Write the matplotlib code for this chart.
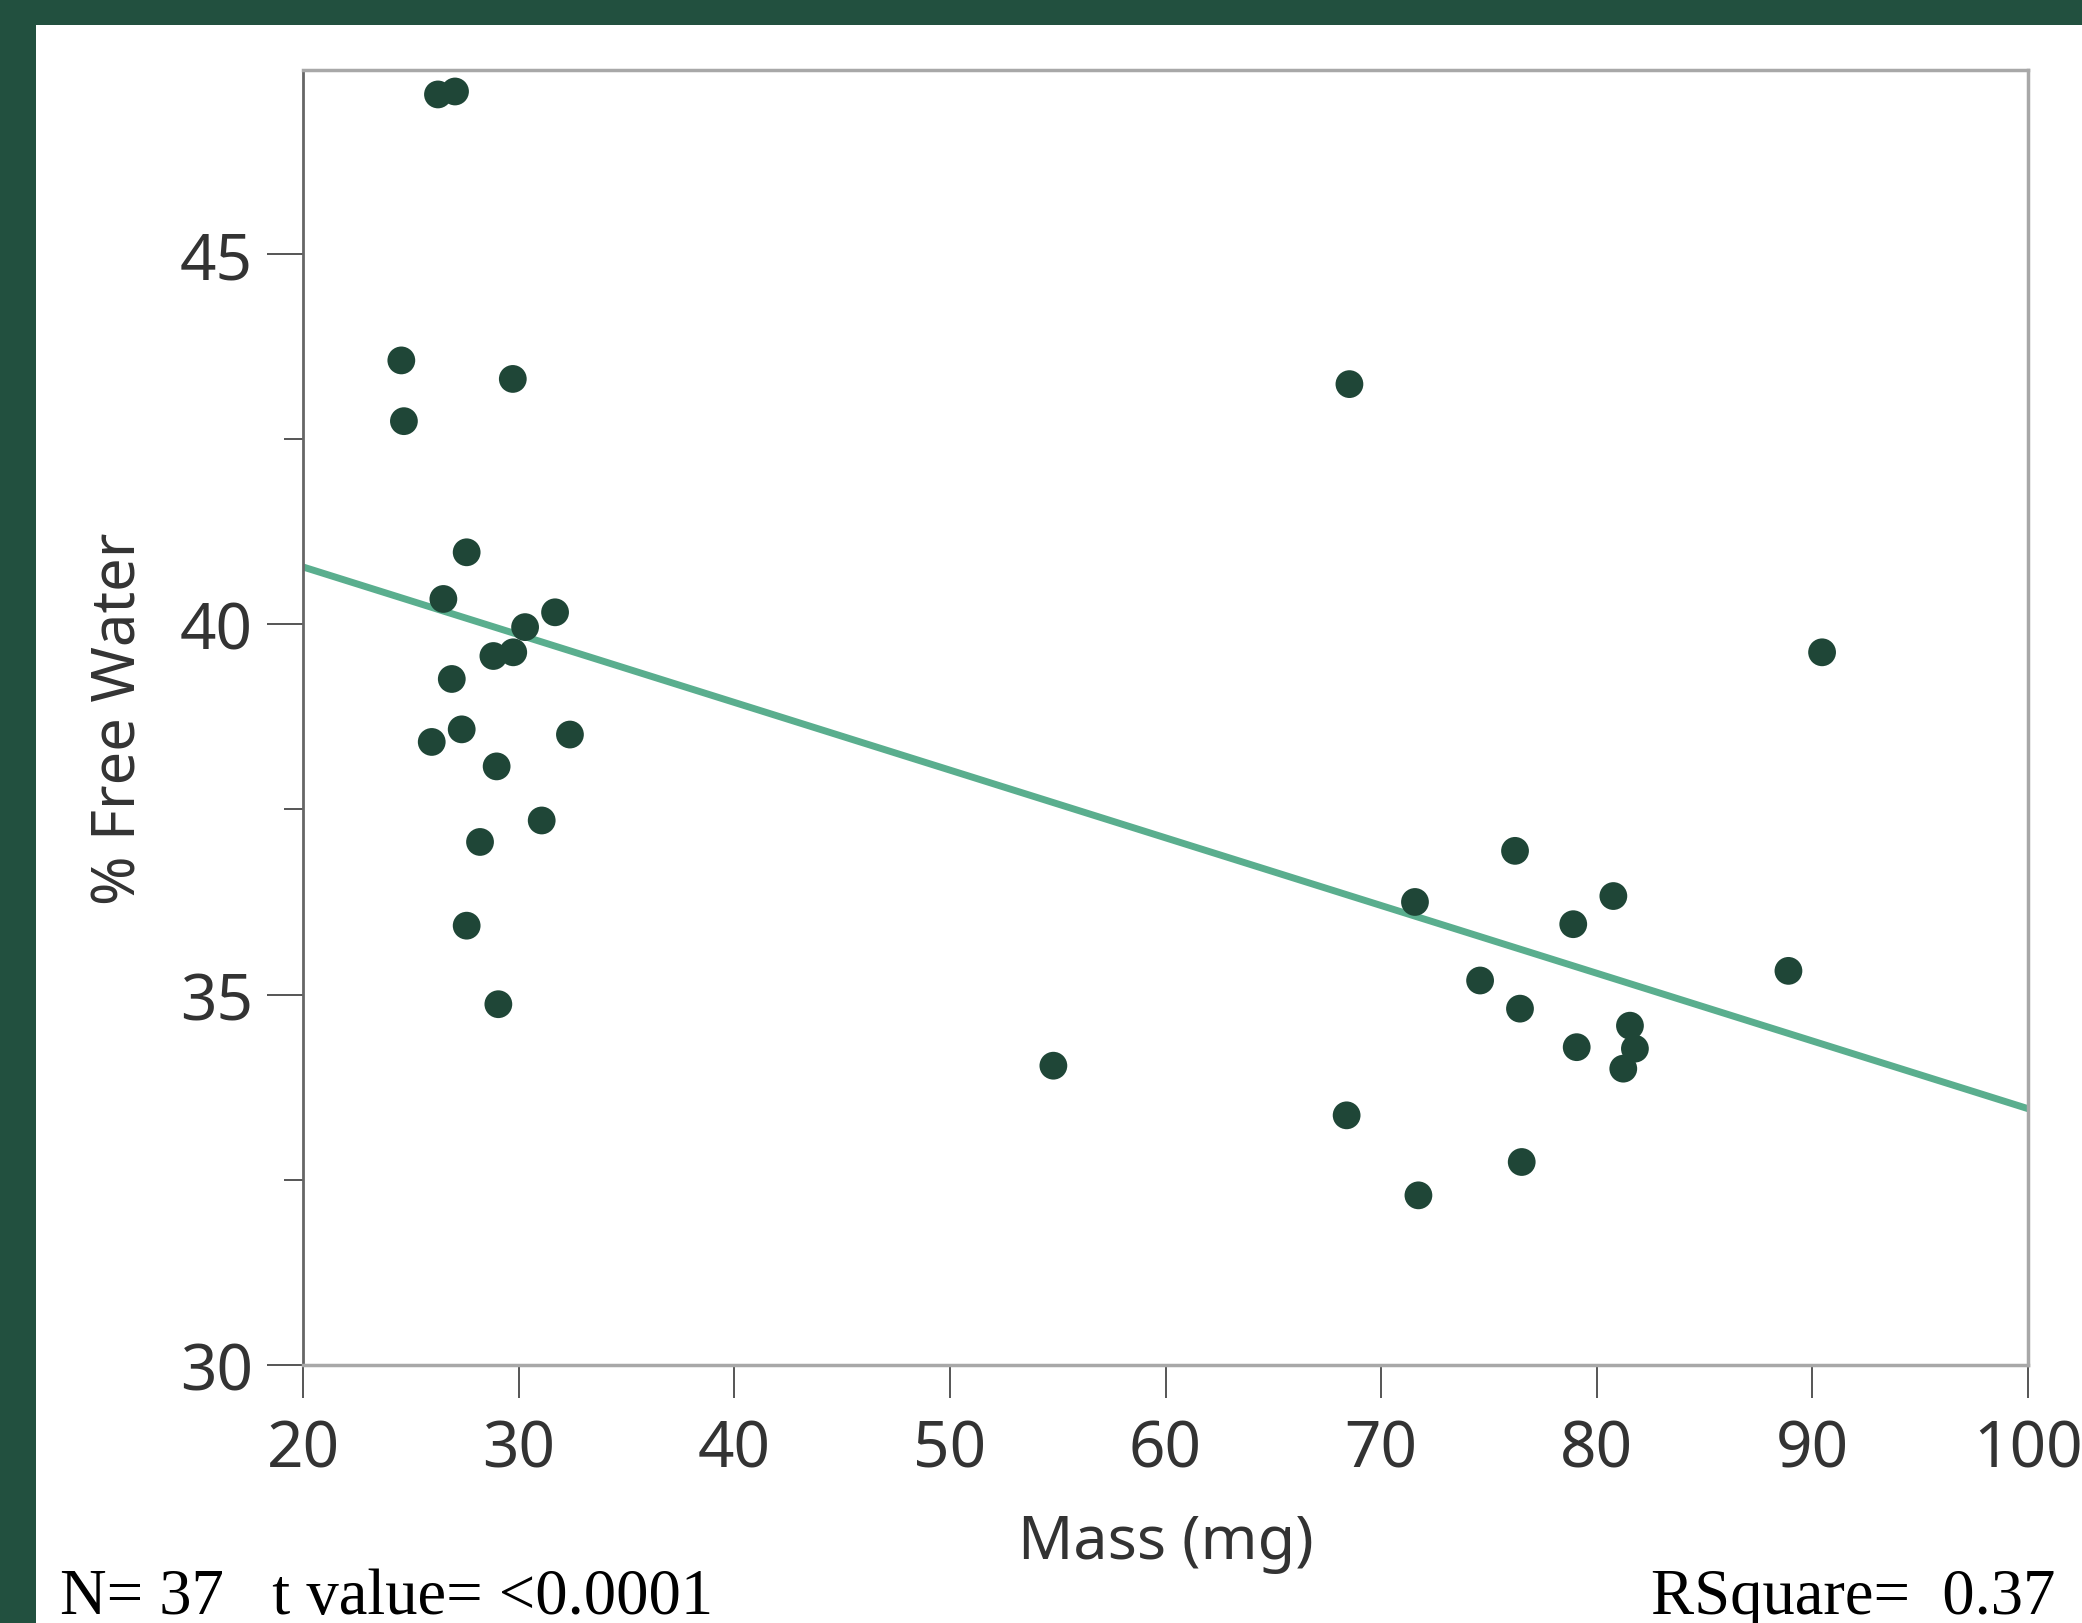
import matplotlib
matplotlib.use("Agg")
import matplotlib.pyplot as plt
from matplotlib.patches import Rectangle
import numpy as np

# ---- data ----
mass_mg = [26.26, 27.05, 24.56, 24.68, 29.73,
           27.59, 26.51, 31.69, 30.30, 28.83, 29.75, 26.90, 27.36, 25.97,
           32.38, 28.98, 31.07, 28.21, 27.59, 29.06,
           68.53, 54.80, 90.45,
           76.21, 71.57, 80.77, 78.91, 88.89, 74.59, 76.44, 81.54, 81.77,
           79.07, 81.23, 68.40, 76.52, 71.73]
free_water = [47.15, 47.19, 43.56, 42.74, 43.31,
              40.97, 40.34, 40.16, 39.96, 39.57, 39.62, 39.26, 38.58, 38.41,
              38.51, 38.08, 37.35, 37.06, 35.93, 34.87,
              43.24, 34.04, 39.62,
              36.94, 36.25, 36.33, 35.95, 35.32, 35.19, 34.81, 34.58, 34.27,
              34.29, 34.00, 33.37, 32.74, 32.29]

fit_intercept = 42.60   # % free water at mass 0 (line)
fit_slope = -0.0914     # per mg

x_ticks = [20, 30, 40, 50, 60, 70, 80, 90, 100]
y_ticks = [30, 35, 40, 45]
y_minor = [32.5, 37.5, 42.5]

stats_left = "N= 37   t value= <0.0001"
stats_right = "RSquare=  0.37"

# ---- styling ----
W, H, DPI = 2082, 1624, 100
BG_GREEN = "#22503f"
DOT = "#1f4637"
LINE = "#5aae8e"
TXT = "#333333"

fig = plt.figure(figsize=(W / DPI, H / DPI), dpi=DPI, facecolor=BG_GREEN)
fig.patches.append(Rectangle((36 / W, 0), 1 - 36 / W, (H - 26) / H,
                             transform=fig.transFigure, facecolor="white",
                             edgecolor="none", zorder=-10))

ax = fig.add_axes([303 / W, 258 / H, (2028 - 303) / W, (1366 - 71) / H])
ax.set_facecolor("white")

xs = np.array([20, 100])
ax.plot(xs, fit_intercept + fit_slope * xs, color=LINE, lw=5,
        solid_capstyle="butt", zorder=2)
ax.scatter(mass_mg, free_water, s=400, color=DOT, edgecolors="none",
           zorder=3, clip_on=False)

ax.set_xlim(20, 100)
ax.set_ylim(30, 47.48)
ax.set_xticks(x_ticks)
ax.set_yticks(y_ticks)
ax.set_yticks(y_minor, minor=True)

font = "Noto Sans"
ax.tick_params(axis="both", which="major", direction="out", color="#555555",
               width=1.4, labelsize=46, labelcolor=TXT)
ax.tick_params(axis="y", which="major", length=26, pad=10)
ax.tick_params(axis="x", which="major", length=24, pad=14)
ax.tick_params(axis="y", which="minor", length=14, width=1.4, color="#555555")
for lab in ax.get_xticklabels() + ax.get_yticklabels():
    lab.set_fontfamily(font)

for side in ["top", "right", "bottom"]:
    ax.spines[side].set_color("#a8a8a8")
    ax.spines[side].set_linewidth(2.5)
ax.spines["left"].set_color("#666666")
ax.spines["left"].set_linewidth(2)

ax.set_xlabel("Mass (mg)", fontsize=44, family=font, color=TXT, labelpad=22)
ax.set_ylabel("% Free Water", fontsize=43, family=font, color=TXT, labelpad=22)

fig.text(60 / W, (H - 1614) / H, stats_left, family="Liberation Serif",
         fontsize=46.5, color="black", ha="left", va="baseline")
fig.text(2055 / W, (H - 1614) / H, stats_right, family="Liberation Serif",
         fontsize=46.5, color="black", ha="right", va="baseline")

fig.savefig("out.png", dpi=DPI, facecolor=BG_GREEN)
